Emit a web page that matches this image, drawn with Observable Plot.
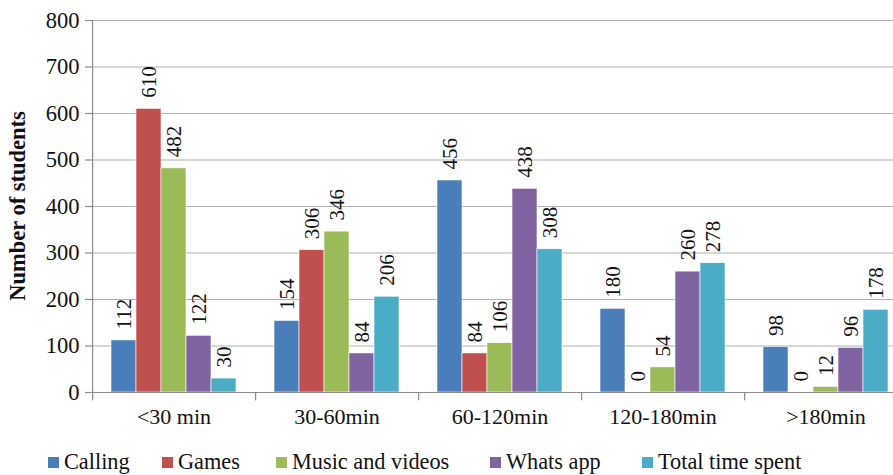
<!DOCTYPE html>
<html>
<head>
<meta charset="utf-8">
<script src="https://cdn.jsdelivr.net/npm/d3@7"></script>
<script src="https://cdn.jsdelivr.net/npm/@observablehq/plot@0.6"></script>
<style>
  html, body { margin: 0; padding: 0; background: #fff; }
  #wrap { position: relative; width: 893px; }
  #chart svg { display: block; overflow: hidden; }
  #ytitle { position: absolute; left: 18px; top: 206px; transform: translate(-50%, -50%) rotate(-90deg);
    white-space: nowrap; font-family: 'Liberation Serif', serif; font-weight: bold;
    font-size: 22.5px; color: #111; }
  .legend { position: relative; height: 30px; margin-top: 7px;
    font-family: 'Liberation Serif', serif; font-size: 22.3px; color: #111; }
  .legend .item { position: absolute; top: 0; display: flex; align-items: center; height: 30px; white-space: nowrap; }
  .legend .sw { width: 11px; height: 11px; margin-right: 5px; }
</style>
</head>
<body>
<div id="wrap"><div id="chart"></div><div id="ytitle">Number of students</div></div>
<script>
const categories = ["<30 min", "30-60min", "60-120min", "120-180min", ">180min"];
const series = ["Calling", "Games", "Music and videos", "Whats app", "Total time spent"];
const colors = ["#4a7ebb", "#c0504d", "#9bbb59", "#8064a2", "#4bacc6"];
const calling  = [112, 154, 456, 180, 98];
const games    = [610, 306, 84, 0, 0];
const music    = [482, 346, 106, 54, 12];
const whatsapp = [122, 84, 438, 260, 96];
const total    = [30, 206, 308, 278, 178];
const yTicks = [0, 100, 200, 300, 400, 500, 600, 700, 800];

const seriesValues = [calling, games, music, whatsapp, total];
const data = categories.flatMap((c, i) =>
  series.map((s, j) => ({category: c, series: s, value: seriesValues[j][i]})));

const W = 893, H = 440, mL = 92, mR = -14, mT = 20, mB = 48;
const bw = (W - mR - mL) / categories.length;
const font = "Liberation Serif";

const chart = Plot.plot({
  width: W, height: H,
  marginLeft: mL, marginRight: mR, marginTop: mT, marginBottom: mB,
  style: {fontFamily: "'Liberation Serif', serif", fontSize: "22px", color: "#111", background: "#fff"},
  fx: {domain: categories, padding: 0, label: null},
  x: {domain: series, paddingInner: 0, paddingOuter: 0.76, axis: null},
  y: {domain: [0, 800], label: null},
  color: {domain: series, range: colors},
  marks: [
    Plot.gridY(yTicks, {stroke: "#b0b0b0", strokeOpacity: 1, strokeWidth: 1.2}),
    Plot.barY(data, {fx: "category", x: "series", y: "value", fill: "series",
      stroke: "#fff", strokeWidth: 0.6}),
    Plot.text(data, {fx: "category", x: "series", y: "value", text: d => String(d.value),
      rotate: -90, textAnchor: "start", lineAnchor: "middle", dy: -11, fontSize: 21,
      fontFamily: font, fill: "#111"}),
    Plot.ruleY([0], {stroke: "#8c8c8c", strokeWidth: 1.2}),
    Plot.rectY(categories.map(c => ({c})), {fx: "c",
      y1: d => d.c === categories[0] ? 800 : 0, y2: -18,
      fill: "#8c8c8c", insetRight: bw - 1.2}),
    Plot.axisY(yTicks, {tickSize: 7, tickPadding: 6, stroke: "#8c8c8c", strokeWidth: 1.2,
      label: null, fontSize: 22.5, fontFamily: font, fill: "#111"}),
    Plot.axisFx({anchor: "bottom", tickSize: 0, tickPadding: 16, label: null, fontSize: 22,
      fontFamily: font, fill: "#111"})
  ]
});
document.getElementById("chart").appendChild(chart);

const legendLeft = [48, 162, 276, 490, 642];
const legend = document.createElement("div");
legend.className = "legend";
series.forEach((s, i) => {
  const it = document.createElement("div");
  it.className = "item";
  it.style.left = legendLeft[i] + "px";
  const sw = document.createElement("div");
  sw.className = "sw";
  sw.style.background = colors[i];
  const t = document.createElement("span");
  t.textContent = s;
  it.append(sw, t);
  legend.append(it);
});
document.body.appendChild(legend);
</script>
</body>
</html>
